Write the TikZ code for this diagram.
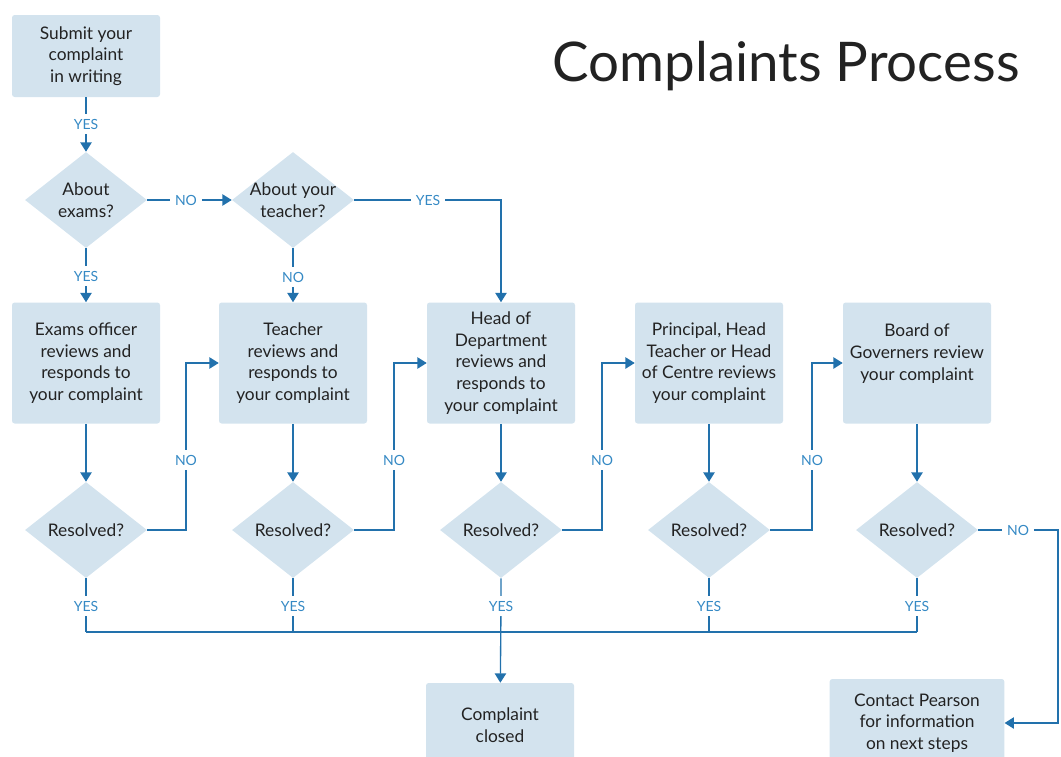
\documentclass[tikz,border=0pt]{standalone}
\usepackage{fontspec}
\setmainfont{Lato}
\usepackage{tikz}
\usetikzlibrary{shapes.geometric}
\usetikzlibrary{arrows.meta}

\definecolor{boxfill}{HTML}{D3E3EE}
\definecolor{linecol}{HTML}{2271AC}
\definecolor{labcol}{HTML}{3589C4}
\definecolor{txtcol}{HTML}{222222}

\tikzset{
  box/.style={rectangle, rounded corners=2pt, fill=boxfill, text=txtcol, align=center,
    minimum width=111pt, minimum height=90.75pt, inner sep=0pt,
    font=\fontsize{13}{16.3}\selectfont},
  query/.style={diamond, fill=boxfill, text=txtcol, align=center, aspect=1.27,
    inner xsep=-16pt, inner ysep=0pt, minimum width=91.5pt, minimum height=72pt,
    font=\fontsize{13}{16.3}\selectfont},
  answer/.style={text=labcol, inner sep=3.5pt, font=\fontsize{10.5}{12}\selectfont},
  line/.style={draw=linecol, line width=1pt},
  arr/.style={line, -{Triangle[length=7pt,width=8.5pt]}}
}

\begin{document}
\begin{tikzpicture}[x=0.75pt,y=-0.75pt]

\useasboundingbox (0,0) rectangle (1061,757);

\node[font=\fontsize{41}{46}\selectfont, text=txtcol] (heading) at (786,66) {Complaints Process};

% first questions
\node[box, minimum height=61.5pt] (submit) at (86,56) {Submit your\\complaint\\in writing};
\node[query] (aboutexams) at (86,200) {About\\exams?};
\node[query] (aboutteacher) at (293,200) {About your\\teacher?};

% reviews
\node[box] (exams) at (86,363) {Exams officer\\reviews and\\responds to\\your complaint};
\node[box] (teacher) at (293,363) {Teacher\\reviews and\\responds to\\your complaint};
\node[box] (hod) at (501,363) {Head of\\Department\\reviews and\\responds to\\your complaint};
\node[box] (principal) at (709,363) {Principal, Head\\Teacher or Head\\of Centre reviews\\your complaint};
\node[box] (board) at (917,363) {Board of\\Governers review\\your complaint\\ };

\foreach \n/\x in {res1/86, res2/293, res3/501, res4/709, res5/917}
  \node[query] (\n) at (\x,530) {Resolved?};

\node[box, minimum height=63pt] (closed) at (500,725) {Complaint\\closed};
\node[box, minimum width=131pt, minimum height=66pt] (contact) at (917,723) {Contact Pearson\\for information\\on next steps};

% answers
\node[answer] (yes0) at (86,124) {YES};
\node[answer] (no0) at (186,200) {NO};
\node[answer] (yes1) at (86,276) {YES};
\node[answer] (no1) at (293,277) {NO};
\node[answer] (yes2) at (428,200) {YES};
\foreach \n/\x in {no2/186, no3/394, no4/602, no5/812}
  \node[answer] (\n) at (\x,460) {NO};
\foreach \n/\x in {yb1/86, yb2/293, yb3/501, yb4/709, yb5/917}
  \node[answer] (\n) at (\x,606) {YES};
\node[answer] (no6) at (1018,530) {NO};

\coordinate (busL) at (86,632);
\coordinate (busR) at (917,632);
\coordinate (turn) at (1058,530);

\draw[arr] (submit) -- (yes0) -- (aboutexams);
\draw[arr] (aboutexams) -- (no0) -- (aboutteacher);
\draw[arr] (aboutexams) -- (yes1) -- (exams);
\draw[arr] (aboutteacher) -- (no1) -- (teacher);
\draw[arr] (aboutteacher) -- (yes2) -| (hod);

\foreach \a/\b in {exams/res1, teacher/res2, hod/res3, principal/res4, board/res5}
  \draw[arr] (\a) -- (\b);

\foreach \r/\n/\t in {res1/no2/teacher, res2/no3/hod, res3/no4/principal, res4/no5/board}
  \draw[arr] (\r) -| (\n) |- (\t);

\foreach \r/\y in {res1/yb1, res2/yb2, res4/yb4, res5/yb5}
  \draw[line] (\r) -- (\y) -- (\y |- busL);
\draw[line] (busL) -- (busR);
\draw[arr] (res3) -- (yb3) -- (closed);

\draw[arr] (res5) -- (no6) -- (turn) |- (contact);

\end{tikzpicture}
\end{document}
